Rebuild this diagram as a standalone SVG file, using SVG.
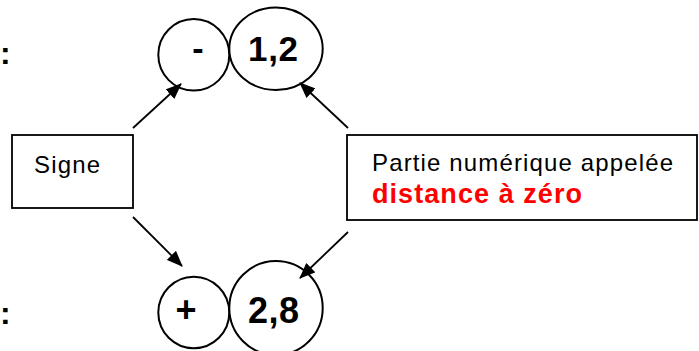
<svg xmlns="http://www.w3.org/2000/svg" width="699" height="351" viewBox="0 0 699 351">
<defs>
<style>
.shape{fill:#fff;stroke:#000;stroke-width:2}
.box{fill:#fff;stroke:#000;stroke-width:1.8}
.t{font-family:"Liberation Sans",Arial,sans-serif;fill:#000}
.b{font-weight:bold}
.conn{stroke:#000;stroke-width:1.8;fill:none;marker-end:url(#ah)}
</style>
<marker id="ah" viewBox="0 0 16 13" refX="15" refY="6.5" markerWidth="16" markerHeight="13" markerUnits="userSpaceOnUse" orient="auto">
<path d="M0,0 L16,6.5 L0,13 z" fill="#000"/>
</marker>
</defs>
<rect width="699" height="351" fill="#fff"/>
<text class="t b" x="0" y="64" font-size="32">:</text>
<text class="t b" x="0" y="324" font-size="32">:</text>
<g id="minus">
<ellipse class="shape" cx="193.8" cy="54.8" rx="35.5" ry="35.8"/>
<text class="t b" x="198" y="60" font-size="34" text-anchor="middle">-</text>
</g>
<g id="v12">
<ellipse class="shape" cx="276" cy="48.7" rx="46.7" ry="41.3"/>
<text class="t b" x="273" y="61" font-size="35" text-anchor="middle" textLength="50" lengthAdjust="spacing">1,2</text>
</g>
<g id="plus">
<ellipse class="shape" cx="193.8" cy="312.5" rx="35.5" ry="35.8"/>
<text class="t b" x="186" y="322" font-size="36" text-anchor="middle">+</text>
</g>
<g id="v28">
<ellipse class="shape" cx="276" cy="308" rx="46.7" ry="47"/>
<text class="t b" x="273.5" y="323" font-size="36" text-anchor="middle" textLength="51" lengthAdjust="spacing">2,8</text>
</g>
<g id="signe">
<rect class="box" x="12" y="135" width="121" height="73"/>
<text class="t" x="34" y="173" font-size="24" textLength="66" lengthAdjust="spacing">Signe</text>
</g>
<g id="partie">
<rect class="box" x="347" y="135" width="350" height="85"/>
<text class="t" x="372" y="171" font-size="24" textLength="301" lengthAdjust="spacing">Partie numérique appelée</text>
<text class="t b" x="372" y="203" font-size="27" fill="#ff0000" style="fill:#ff0000" textLength="210" lengthAdjust="spacing">distance à zéro</text>
</g>
<g id="connectors">
<line class="conn" x1="133" y1="128" x2="181" y2="84"/>
<line class="conn" x1="348" y1="128" x2="300" y2="83"/>
<line class="conn" x1="133" y1="217" x2="182" y2="266"/>
<line class="conn" x1="348" y1="232" x2="300" y2="278"/>
</g>
</svg>
